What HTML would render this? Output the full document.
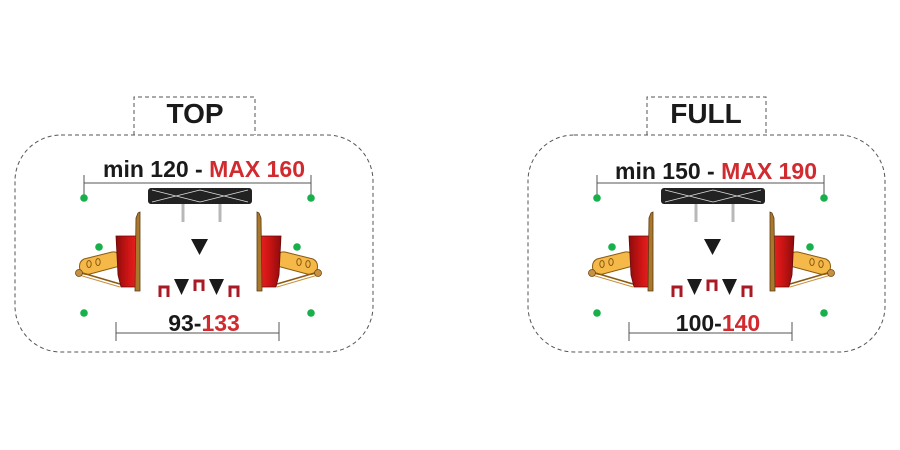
<!DOCTYPE html>
<html><head><meta charset="utf-8"><style>
html,body{margin:0;padding:0;background:#fff;width:900px;height:450px;overflow:hidden}
svg{display:block}
text{font-family:"Liberation Sans",Arial,sans-serif;font-weight:bold}
</style></head><body>
<svg width="900" height="450" viewBox="0 0 900 450" xmlns="http://www.w3.org/2000/svg">
<defs>
<linearGradient id="rg" x1="0" x2="1" y1="0" y2="0">
<stop offset="0" stop-color="#8e0c0c"/><stop offset="0.6" stop-color="#d01515"/><stop offset="1" stop-color="#e82020"/>
</linearGradient>
<g id="side">
<path d="M80,270 Q78,262 84,259 L112,252 Q119,251 119,258 L120,266 L90,274 Q82,276 80,270Z" fill="#f5b94a" stroke="#8a5a10" stroke-width="1"/>
<ellipse cx="89" cy="264" rx="2.2" ry="3.5" fill="none" stroke="#8a5a10" stroke-width="1"/>
<ellipse cx="98" cy="262" rx="2.2" ry="3.5" fill="none" stroke="#8a5a10" stroke-width="1"/>
<line x1="79" y1="272" x2="120" y2="284" stroke="#8a5a10" stroke-width="1.5"/>
<line x1="79" y1="275" x2="120" y2="287" stroke="#c89040" stroke-width="1"/>
<circle cx="79" cy="273" r="3.5" fill="#c89040" stroke="#6a4a10" stroke-width="0.8"/>
<path d="M116,236 L136,236 L137,287 L121,287 L118,275 Z" fill="url(#rg)" stroke="#6a0808" stroke-width="0.8"/>
<path d="M138,213 L140,212 L140,291 L135,291 L136,218 Z" fill="#a9782c" stroke="#5a3a10" stroke-width="0.8"/>
</g>
<g id="panel">
<line x1="84" y1="183" x2="311" y2="183" stroke="#555" stroke-width="1"/>
<line x1="84" y1="175" x2="84" y2="195" stroke="#555" stroke-width="1"/>
<line x1="311" y1="175" x2="311" y2="195" stroke="#555" stroke-width="1"/>
<g fill="#17b04a">
<circle cx="84" cy="198" r="3.8"/><circle cx="311" cy="198" r="3.8"/>
<circle cx="99" cy="247" r="3.8"/><circle cx="297" cy="247" r="3.8"/>
<circle cx="84" cy="313" r="3.8"/><circle cx="311" cy="313" r="3.8"/>
</g>
<rect x="148" y="188" width="104" height="16" rx="3" fill="#222"/>
<path d="M152,190 L200,202 M152,202 L200,190 M200,190 L248,202 M200,202 L248,190" stroke="#ddd" stroke-width="0.8"/>
<rect x="181.5" y="204" width="3" height="18" fill="#b8b8b8"/>
<rect x="218.5" y="204" width="3" height="18" fill="#b8b8b8"/>
<path d="M191,239 L208,239 L199.5,255Z" fill="#1a1a1a"/>
<path d="M174,279 L189,279 L181.5,295Z" fill="#1a1a1a"/>
<path d="M209,279 L224,279 L216.5,295Z" fill="#1a1a1a"/>
<g fill="none" stroke="#a81a24" stroke-width="3">
<path d="M160,297 L160,287 L168,287 L168,297"/>
<path d="M195,291 L195,281 L203,281 L203,291"/>
<path d="M230,297 L230,287 L238,287 L238,297"/>
</g>
<use href="#side"/>
<use href="#side" transform="translate(397,0) scale(-1,1)"/>
<line x1="116" y1="333" x2="279" y2="333" stroke="#555" stroke-width="1"/>
<line x1="116" y1="322" x2="116" y2="341" stroke="#555" stroke-width="1"/>
<line x1="279" y1="322" x2="279" y2="341" stroke="#555" stroke-width="1"/>
</g>
</defs>
<g fill="none" stroke="#555" stroke-width="1" stroke-dasharray="4,3">
<rect x="15" y="135" width="358" height="217" rx="46"/>
<path d="M134,135 L134,97 L255,97 L255,135"/>
<rect x="528" y="135" width="357" height="217" rx="46"/>
<path d="M647,135 L647,97 L766,97 L766,135"/>
</g>
<use href="#panel"/>
<use href="#panel" transform="translate(513,0)"/>
<text x="195" y="123" font-size="28" text-anchor="middle" fill="#1a1a1a">TOP</text>
<text x="706" y="123" font-size="28" text-anchor="middle" fill="#1a1a1a">FULL</text>
<text x="204" y="177" font-size="23" text-anchor="middle" fill="#1a1a1a">min 120 - <tspan fill="#d12a2f">MAX 160</tspan></text>
<text x="716" y="179" font-size="23" text-anchor="middle" fill="#1a1a1a">min 150 - <tspan fill="#d12a2f">MAX 190</tspan></text>
<text x="204" y="331" font-size="23" text-anchor="middle" fill="#1a1a1a">93-<tspan fill="#d12a2f">133</tspan></text>
<text x="718" y="331" font-size="23" text-anchor="middle" fill="#1a1a1a">100-<tspan fill="#d12a2f">140</tspan></text>
</svg>
</body></html>
